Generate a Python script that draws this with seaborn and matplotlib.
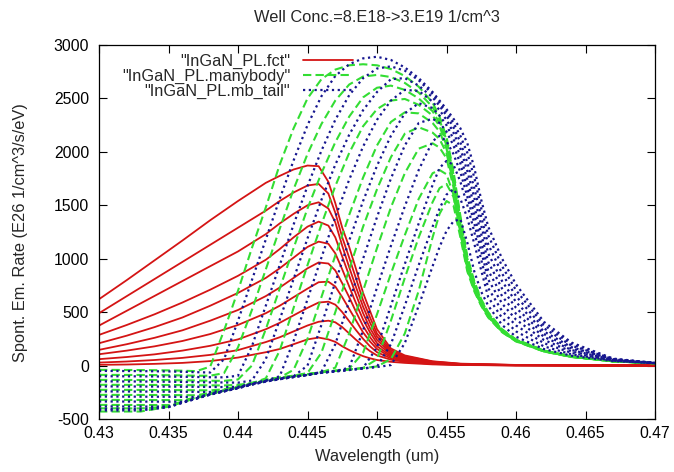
"""
Spontaneous emission spectra, InGaN well - three models compared.
Curves read off the gnuplot figure (well conc. 8.E18 -> 3.E19 1/cm^3).
"""

import numpy as np
import pandas as pd
import matplotlib
matplotlib.use("Agg")
import matplotlib.pyplot as plt
import matplotlib.ticker as mticker
from matplotlib.lines import Line2D
import seaborn as sns

# ── Data ─────────────────────────────────────────────────────────────
TITLE = "Well Conc.=8.E18->3.E19 1/cm^3"
X_LABEL = "Wavelength (um)"
Y_LABEL = "Spont. Em. Rate (E26 1/cm^3/s/eV)"
MODELS = ['"InGaN_PL.fct"', '"InGaN_PL.manybody"', '"InGaN_PL.mb_tail"']

X_TICKS = [0.43, 0.435, 0.44, 0.445, 0.45, 0.455, 0.46, 0.465, 0.47]
Y_TICKS = [-500, 0, 500, 1000, 1500, 2000, 2500, 3000]

# wavelength grid (um) of the fct curves
WL_FCT = [0.430, 0.432, 0.434, 0.436, 0.438, 0.440, 0.442, 0.443, 0.444,
          0.445, 0.4458, 0.4465, 0.447, 0.4475, 0.448, 0.4485, 0.449,
          0.4495, 0.450, 0.451, 0.452, 0.454, 0.456, 0.460, 0.465, 0.470]

FCT = [
    [621, 800, 985, 1170, 1360, 1540, 1710, 1775, 1835, 1872, 1866, 1720, 1520,
     1290, 1110, 900, 680, 510, 340, 160, 95, 40, 18, 6, 2, 1],
    [490, 650, 810, 970, 1130, 1290, 1450, 1540, 1620, 1685, 1700, 1610, 1430,
     1200, 1010, 810, 610, 450, 300, 145, 88, 37, 16, 5, 2, 1],
    [374, 513, 652, 791, 930, 1068, 1230, 1330, 1420, 1500, 1528, 1470, 1340,
     1120, 920, 730, 550, 400, 270, 130, 80, 34, 14, 5, 2, 1],
    [287, 380, 480, 590, 710, 840, 990, 1090, 1200, 1300, 1347, 1310, 1200,
     1020, 840, 660, 490, 350, 240, 118, 72, 30, 12, 4, 1, 0],
    [209, 280, 360, 450, 560, 680, 820, 910, 1010, 1110, 1160, 1140, 1050,
     900, 740, 580, 430, 310, 210, 105, 65, 27, 11, 4, 1, 0],
    [147, 200, 260, 330, 420, 520, 650, 730, 820, 910, 965, 955, 890,
     770, 640, 500, 370, 265, 180, 92, 57, 24, 10, 3, 1, 0],
    [106, 140, 180, 230, 295, 380, 490, 560, 640, 720, 780, 785, 740,
     640, 530, 420, 310, 225, 155, 80, 50, 21, 8, 3, 1, 0],
    [60, 80, 105, 140, 185, 245, 340, 400, 470, 540, 590, 598, 570,
     500, 415, 330, 250, 180, 125, 68, 42, 18, 7, 2, 1, 0],
    [28, 38, 52, 72, 100, 145, 220, 265, 320, 375, 410, 420, 405,
     360, 300, 240, 185, 135, 95, 55, 35, 15, 6, 2, 1, 0],
    [7, 10, 16, 25, 42, 75, 125, 155, 200, 245, 262, 245, 222,
     180, 145, 115, 88, 68, 52, 35, 25, 11, 5, 2, 1, 0],
]

# wavelength grid (um) of the manybody / mb_tail curves
WL_MB = [0.430, 0.433, 0.435, 0.436, 0.437, 0.438, 0.439, 0.440, 0.441,
         0.442, 0.443, 0.444, 0.445, 0.446, 0.447, 0.448, 0.449, 0.450,
         0.451, 0.452, 0.453, 0.454, 0.4545, 0.455, 0.4555, 0.456, 0.4565,
         0.457, 0.4575, 0.458, 0.459, 0.460, 0.462, 0.464, 0.467, 0.470]

MANYBODY = [
    [-40, -42, -45, -48, -52, -10, 330, 700, 1100, 1480, 1880, 2220, 2500,
     2680, 2770, 2810, 2820, 2810, 2775, 2710, 2610, 2460, 2330, 2140, 1820,
     1400, 1020, 790, 620, 500, 340, 245, 142, 86, 40, 22],
    [-87, -88, -90, -92, -95, -95, -70, 170, 520, 900, 1280, 1650, 1980,
     2260, 2480, 2630, 2705, 2720, 2700, 2645, 2555, 2420, 2300, 2110, 1790,
     1370, 1000, 775, 610, 490, 335, 242, 140, 85, 40, 22],
    [-134, -135, -136, -138, -140, -142, -143, -130, 0, 340, 720, 1100, 1470,
     1800, 2090, 2330, 2510, 2600, 2620, 2580, 2500, 2380, 2270, 2085, 1770,
     1350, 985, 765, 605, 485, 330, 240, 139, 84, 40, 22],
    [-180, -181, -182, -183, -184, -185, -186, -180, -165, -120, 140, 540, 940,
     1320, 1680, 1990, 2240, 2400, 2480, 2495, 2440, 2340, 2240, 2060, 1750,
     1330, 970, 755, 598, 480, 327, 238, 138, 84, 40, 22],
    [-227, -228, -229, -230, -231, -232, -222, -195, -162, -134, -112, -40, 250,
     640, 1030, 1410, 1760, 2060, 2280, 2370, 2360, 2270, 2190, 2030, 1730,
     1310, 955, 745, 590, 475, 324, 236, 137, 83, 40, 22],
    [-274, -275, -276, -277, -278, -256, -226, -197, -163, -134, -112, -94, -70,
     120, 500, 900, 1300, 1650, 1950, 2170, 2230, 2180, 2120, 1990, 1700,
     1290, 940, 735, 585, 470, 322, 234, 136, 83, 40, 22],
    [-321, -322, -323, -324, -300, -262, -231, -201, -167, -138, -116, -97, -80,
     -62, -20, 300, 700, 1100, 1480, 1800, 2030, 2080, 2040, 1940, 1670,
     1270, 925, 725, 578, 465, 320, 232, 135, 82, 40, 22],
    [-368, -369, -370, -340, -300, -262, -231, -201, -167, -138, -116, -97, -80,
     -62, -48, -30, 120, 480, 860, 1220, 1560, 1800, 1830, 1790, 1600,
     1240, 910, 715, 572, 460, 318, 230, 134, 82, 40, 22],
    [-400, -401, -385, -340, -302, -264, -233, -203, -169, -140, -118, -99, -81,
     -62, -49, -36, -22, 60, 420, 820, 1200, 1530, 1660, 1700, 1580,
     1230, 900, 705, 565, 455, 315, 228, 133, 81, 40, 22],
    [-430, -430, -385, -342, -304, -266, -235, -205, -171, -142, -120, -101, -82,
     -63, -50, -37, -24, -8, 60, 300, 700, 1200, 1420, 1540, 1500,
     1200, 880, 695, 558, 450, 312, 226, 132, 80, 40, 22],
]

MB_TAIL = [
    [-50, -52, -55, -58, -62, -65, 60, 420, 800, 1180, 1560, 1920, 2250,
     2520, 2710, 2820, 2875, 2890, 2860, 2790, 2690, 2560, 2480, 2400, 2310,
     2220, 2080, 1850, 1550, 1300, 1000, 760, 410, 215, 65, 25],
    [-100, -101, -103, -105, -107, -109, -110, -95, 180, 560, 940, 1320, 1680,
     2010, 2300, 2530, 2690, 2780, 2800, 2760, 2670, 2540, 2460, 2370, 2270,
     2150, 1990, 1760, 1470, 1220, 930, 705, 380, 200, 62, 24],
    [-148, -149, -151, -153, -155, -157, -158, -160, -140, 60, 430, 810, 1190,
     1550, 1880, 2160, 2390, 2560, 2680, 2690, 2620, 2510, 2430, 2340, 2230,
     2090, 1900, 1660, 1390, 1135, 860, 650, 350, 186, 60, 24],
    [-195, -196, -197, -198, -199, -200, -201, -199, -168, -140, -100, 230, 620,
     1010, 1390, 1740, 2050, 2300, 2480, 2580, 2570, 2470, 2390, 2300, 2180,
     2030, 1820, 1570, 1310, 1050, 790, 595, 320, 172, 57, 24],
    [-242, -243, -244, -245, -246, -247, -236, -206, -172, -143, -121, -100, 0,
     380, 780, 1170, 1540, 1870, 2150, 2360, 2455, 2410, 2340, 2250, 2120,
     1960, 1740, 1490, 1230, 970, 720, 540, 295, 158, 55, 24],
    [-290, -291, -292, -293, -294, -268, -237, -207, -173, -145, -123, -103, -88,
     -60, 200, 600, 1000, 1390, 1750, 2060, 2270, 2310, 2270, 2190, 2060,
     1890, 1660, 1410, 1150, 890, 650, 485, 270, 145, 52, 24],
    [-336, -337, -338, -339, -306, -268, -238, -208, -174, -146, -124, -104, -86,
     -65, -52, -20, 330, 730, 1120, 1490, 1830, 2100, 2150, 2100, 1980,
     1810, 1580, 1330, 1070, 805, 580, 430, 240, 132, 50, 24],
    [-382, -383, -384, -346, -308, -270, -240, -210, -176, -148, -126, -106, -87,
     -66, -53, -40, -22, 170, 560, 950, 1330, 1690, 1850, 1915, 1880,
     1720, 1500, 1250, 990, 725, 510, 375, 210, 118, 47, 23],
    [-405, -406, -388, -347, -309, -271, -241, -211, -177, -149, -127, -107, -88,
     -67, -54, -41, -27, -10, 200, 560, 940, 1300, 1470, 1600, 1650,
     1560, 1380, 1140, 890, 640, 445, 320, 180, 105, 45, 23],
    [-420, -420, -390, -348, -310, -272, -242, -212, -178, -150, -128, -108, -89,
     -68, -55, -42, -28, -14, 5, 210, 560, 930, 1110, 1260, 1350,
     1370, 1150, 880, 690, 560, 380, 270, 155, 92, 42, 22],
]

# ── Style ────────────────────────────────────────────────────────────
COLORS = {MODELS[0]: "#d41414", MODELS[1]: "#33dd33", MODELS[2]: "#16168f"}
DASHES = {MODELS[0]: "", MODELS[1]: (4, 2), MODELS[2]: (1, 1.6)}
WIDTHS = {MODELS[0]: 1.3, MODELS[1]: 1.5, MODELS[2]: 1.6}
FS_TEXT = 11.8
FS_TICK = 11.3


def build_frame():
    rows = []
    for model, wl, curves in ((MODELS[0], WL_FCT, FCT),
                              (MODELS[1], WL_MB, MANYBODY),
                              (MODELS[2], WL_MB, MB_TAIL)):
        for i, vals in enumerate(curves):
            for w, v in zip(wl, vals):
                rows.append({"model": model, "curve": f"{model}-{i}",
                             "wl": w, "rate": v})
    return pd.DataFrame(rows)


def main():
    sns.set_theme(style="ticks")
    plt.rcParams["font.family"] = ["Liberation Sans", "DejaVu Sans"]

    df = build_frame()
    W, H = 674, 472
    fig = plt.figure(figsize=(W / 100, H / 100), dpi=100, facecolor="white")
    ax = fig.add_axes([99 / W, 53 / H, 556 / W, 374 / H])

    # fct first, then manybody, then mb_tail on top (gnuplot order)
    for model in MODELS:
        sub = df[df["model"] == model]
        sns.lineplot(data=sub, x="wl", y="rate", units="curve",
                     estimator=None, sort=False, color=COLORS[model],
                     linewidth=WIDTHS[model], legend=False, ax=ax)
        for line in ax.lines[-sub["curve"].nunique():]:
            if DASHES[model]:
                line.set_dashes(DASHES[model])

    ax.set_xlim(0.43, 0.47)
    ax.set_ylim(-500, 3000)
    ax.set_xticks(X_TICKS)
    ax.set_yticks(Y_TICKS)
    ax.xaxis.set_major_formatter(mticker.FormatStrFormatter("%g"))
    ax.yaxis.set_major_formatter(mticker.FormatStrFormatter("%g"))
    ax.tick_params(direction="in", top=True, right=True, length=6, width=0.8,
                   labelsize=FS_TICK, colors="black")
    ax.tick_params(axis="x", pad=5)
    ax.tick_params(axis="y", pad=7)
    ax.set_xlabel("")
    ax.set_ylabel("")
    for s in ax.spines.values():
        s.set_linewidth(0.9)
        s.set_color("black")

    handles = [Line2D([0], [0], color=COLORS[m], linewidth=WIDTHS[m],
                      dashes=DASHES[m] if DASHES[m] else (None, None))
               for m in MODELS]
    ax.legend(handles, MODELS, loc="upper right",
              bbox_to_anchor=(0.462, 0.985), markerfirst=False,
              frameon=False, fontsize=FS_TEXT, handlelength=3.0,
              handletextpad=0.8, labelspacing=0.0, borderaxespad=0,
              borderpad=0.2)

    fig.text(377 / W, 1 - 17 / H, TITLE, ha="center", va="center",
             fontsize=FS_TEXT)
    fig.text(377 / W, 1 - 457 / H, X_LABEL, ha="center", va="center",
             fontsize=FS_TEXT)
    fig.text(21 / W, 1 - 233 / H, Y_LABEL, ha="center", va="center",
             rotation=90, fontsize=FS_TEXT)

    fig.savefig("out.png", dpi=100, facecolor="white")
    plt.close(fig)


if __name__ == "__main__":
    main()
